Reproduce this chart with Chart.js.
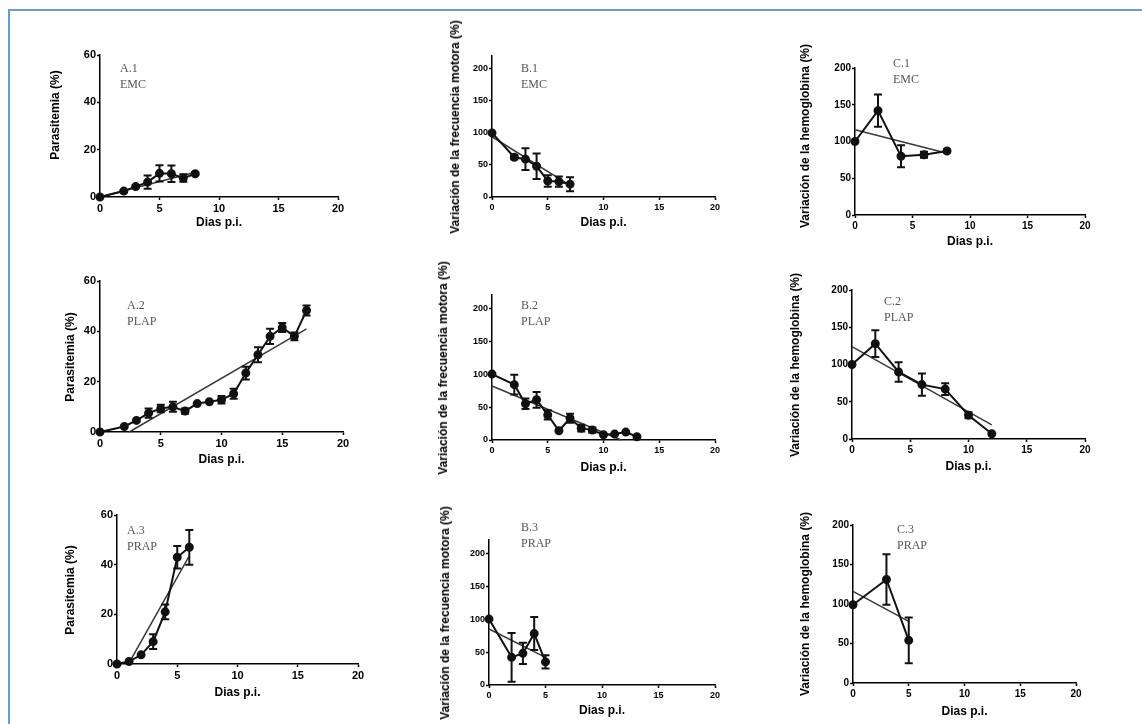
<!DOCTYPE html>
<html><head><meta charset="utf-8">
<script src="https://cdn.jsdelivr.net/npm/chart.js@4.4.0/dist/chart.umd.min.js"></script>
<style>
html,body{margin:0;padding:0;background:#fff;}
#page{position:relative;width:1142px;height:724px;overflow:hidden;background:#fff;}
#frame{position:absolute;left:8px;top:9px;width:1140px;height:720px;border-left:2px solid #6f9ad3;border-top:2px solid #6f9ad3;}
canvas{position:absolute;}
.lab{position:absolute;font-family:"Liberation Serif","Times New Roman",serif;font-size:12px;color:#555;line-height:16px;white-space:nowrap;}
.ytitle{position:absolute;font-family:"Liberation Sans",Arial,sans-serif;font-weight:bold;font-size:12px;color:#000;white-space:nowrap;transform:translate(-50%,-50%) rotate(-90deg);line-height:14px;}
</style></head><body><div id="page"><div id="frame"></div></div>
<script>
// ---------- DATA ----------
const xTicksLabel = 'Dias p.i.';
// A.1 EMC parasitemia
const days_A1 = [0,2,3,4,5,6,7,8];
const par_A1  = [0,2.5,4.4,6.3,10,9.8,8,9.8];
const sd_A1   = [0,0.5,0.5,2.8,3.4,3.5,1.6,0.5];
const fitX_A1 = [0,8];
const fitY_A1 = [0,10.5];
// B.1 EMC motor frequency
const days_B1 = [0,2,3,4,5,6,7];
const fm_B1   = [100,62,59,48,25,24,20];
const sd_B1   = [0,3,17,20,9,8,11];
const fitX_B1 = [0,7];
const fitY_B1 = [94,18];
// C.1 EMC hemoglobin
const days_C1 = [0,2,4,6,8];
const hb_C1   = [100,142,80,82,87];
const sd_C1   = [0,22,15,4,2];
const fitX_C1 = [0,8];
const fitY_C1 = [116,84];
// A.2 PLAP parasitemia
const days_A2 = [0,2,3,4,5,6,7,8,9,10,11,12,13,14,15,16,17];
const par_A2  = [0,2.2,4.6,7.5,9.3,10,8.3,11.3,12,12.8,15.2,23.4,30.7,38,41.5,38,48.3];
const sd_A2   = [0,0,0,1.8,1.5,2,1,0,0,1.5,2,2.5,3,3,1.8,1.5,2];
const fitX_A2 = [2.4,17];
const fitY_A2 = [0,41];
// B.2 PLAP motor frequency
const days_B2 = [0,2,3,4,5,6,7,8,9,10,11,12,13];
const fm_B2   = [100,84,55,61,38,14,33,18,15,8,9,12,5];
const sd_B2   = [0,15,8,12,7,0,7,5,4,0,0,0,0];
const fitX_B2 = [0,11.6];
const fitY_B2 = [82,0];
// C.2 PLAP hemoglobin
const days_C2 = [0,2,4,6,8,10,12];
const hb_C2   = [100,128,90,73,67,32,7];
const sd_C2   = [0,18,13,15,8,4,0];
const fitX_C2 = [0,12];
const fitY_C2 = [124,19];
// A.3 PRAP parasitemia
const days_A3 = [0,1,2,3,4,5,6];
const par_A3  = [0,1,3.7,9,21,43,47];
const sd_A3   = [0,0,0,3,3,4.5,7];
const fitX_A3 = [1,6];
const fitY_A3 = [0.5,43.5];
// B.3 PRAP motor frequency
const days_B3 = [0,2,3,4,5];
const fm_B3   = [100,42,48,78,35];
const sd_B3   = [0,37,16,25,10];
const fitX_B3 = [0,5];
const fitY_B3 = [85,42];
// C.3 PRAP hemoglobin
const days_C3 = [0,3,5];
const hb_C3   = [99,131,54];
const sd_C3   = [0,32,29];
const fitX_C3 = [0,5];
const fitY_C3 = [116,78];

const yTitleA = 'Parasitemia (%)';
const yTitleB = 'Variación de la frecuencia motora (%)';
const yTitleC = 'Variación de la hemoglobina (%)';

// ---------- LAYOUT ----------
const panels = [
 {xs:days_A1, ys:par_A1, sd:sd_A1, fx:fitX_A1, fy:fitY_A1, yt:yTitleA, lab:['A.1','EMC'], L:100,R:338,T:55,B:197,yMax:60,step:20,yDist:45,xDist:26,tick:11,labX:120,labY:68,ytCy:115},
 {xs:days_B1, ys:fm_B1, sd:sd_B1, fx:fitX_B1, fy:fitY_B1, yt:yTitleB, lab:['B.1','EMC'], L:492,R:715,T:56,B:197,yMax:220,step:50,yDist:37,xDist:26,tick:9,labX:521,labY:68},
 {xs:days_C1, ys:hb_C1, sd:sd_C1, fx:fitX_C1, fy:fitY_C1, yt:yTitleC, lab:['C.1','EMC'], L:855,R:1085,T:68,B:215,yMax:200,step:50,yDist:50,xDist:27,tick:10,labX:893,labY:63,ytCy:136},
 {xs:days_A2, ys:par_A2, sd:sd_A2, fx:fitX_A2, fy:fitY_A2, yt:yTitleA, lab:['A.2','PLAP'], L:100,R:343,T:281,B:432,yMax:60,step:20,yDist:30,xDist:28,tick:11,labX:127,labY:305},
 {xs:days_B2, ys:fm_B2, sd:sd_B2, fx:fitX_B2, fy:fitY_B2, yt:yTitleB, lab:['B.2','PLAP'], L:492,R:715,T:295,B:440,yMax:220,step:50,yDist:49,xDist:28,tick:9,labX:521,labY:305},
 {xs:days_C2, ys:hb_C2, sd:sd_C2, fx:fitX_C2, fy:fitY_C2, yt:yTitleC, lab:['C.2','PLAP'], L:852,R:1085,T:290,B:439,yMax:200,step:50,yDist:57,xDist:28,tick:10,labX:884,labY:301},
 {xs:days_A3, ys:par_A3, sd:sd_A3, fx:fitX_A3, fy:fitY_A3, yt:yTitleA, lab:['A.3','PRAP'], L:117,R:358,T:515,B:664,yMax:60,step:20,yDist:47,xDist:29,tick:11,labX:127,labY:530},
 {xs:days_B3, ys:fm_B3, sd:sd_B3, fx:fitX_B3, fy:fitY_B3, yt:yTitleB, lab:['B.3','PRAP'], L:489,R:715,T:540,B:685,yMax:220,step:50,yDist:44,xDist:26,tick:9,labX:521,labY:527},
 {xs:days_C3, ys:hb_C3, sd:sd_C3, fx:fitX_C3, fy:fitY_C3, yt:yTitleC, lab:['C.3','PRAP'], L:853,R:1076,T:525,B:683,yMax:200,step:50,yDist:48,xDist:29,tick:10,labX:897,labY:529}
];

Chart.defaults.font.family = '"Liberation Sans", Arial, sans-serif';

const errorBars = {
  id:'errorBars',
  afterDatasetsDraw(chart){
    const ctx = chart.ctx, xs = chart.scales.x, ys = chart.scales.y;
    chart.data.datasets.forEach(ds=>{
      if(!ds.errors) return;
      ctx.save();
      ctx.strokeStyle = '#111'; ctx.lineWidth = 2;
      ds.data.forEach((pt,i)=>{
        const e = ds.errors[i]; if(!e) return;
        const px = xs.getPixelForValue(pt.x);
        const t = ys.getPixelForValue(pt.y + e);
        const b = ys.getPixelForValue(Math.max(0, pt.y - e));
        ctx.beginPath();
        ctx.moveTo(px,t); ctx.lineTo(px,b);
        ctx.moveTo(px-4,t); ctx.lineTo(px+4,t);
        ctx.moveTo(px-4,b); ctx.lineTo(px+4,b);
        ctx.stroke();
      });
      ctx.restore();
    });
  }
};

const page = document.getElementById('page');

panels.forEach(p=>{
  const padTop = 12, padRight = 12;
  const yW = Math.round(p.yDist + 7), xH = Math.round(p.xDist + 7);
  const w = yW + (p.R - p.L) + padRight;
  const h = padTop + (p.B - p.T) + xH;
  const c = document.createElement('canvas');
  c.width = w; c.height = h;
  c.style.width = w + 'px'; c.style.height = h + 'px';
  c.style.left = (p.L - yW) + 'px'; c.style.top = (p.T - padTop) + 'px';
  page.appendChild(c);

  const tickFont = {size:p.tick, weight:'bold'};
  const gridOpts = {display:true, drawOnChartArea:false, drawTicks:true, tickLength:3, tickWidth:1.5, tickColor:'#000'};
  const borderOpts = {display:true, color:'#000', width:1.5};

  new Chart(c, {
    type:'scatter',
    data:{datasets:[
      {data:p.xs.map((x,i)=>({x:x, y:p.ys[i]})), showLine:true, borderColor:'#111', borderWidth:2,
       pointRadius:3.5, pointBackgroundColor:'#111', pointBorderColor:'#111', errors:p.sd, clip:false},
      {data:p.fx.map((x,i)=>({x:x, y:p.fy[i]})), showLine:true, borderColor:'#3a3a3a', borderWidth:1.5,
       pointRadius:0, clip:false}
    ]},
    options:{
      responsive:false, animation:false, devicePixelRatio:1,
      layout:{padding:{top:padTop, right:padRight, left:0, bottom:0}},
      plugins:{legend:{display:false}, tooltip:{enabled:false}},
      scales:{
        x:{type:'linear', min:0, max:20,
           ticks:{stepSize:5, includeBounds:false, font:tickFont, color:'#000', padding:2, maxRotation:0},
           grid:gridOpts, border:borderOpts,
           title:{display:true, text:xTicksLabel, font:{size:12, weight:'bold'}, color:'#000', padding:0},
           afterFit(s){ s.height = xH; }},
        y:{type:'linear', min:0, max:p.yMax,
           ticks:{stepSize:p.step, includeBounds:false, font:tickFont, color:'#000', padding:1},
           grid:gridOpts, border:borderOpts,
           title:{display:false},
           afterFit(s){ s.width = yW; }}
      }
    },
    plugins:[errorBars]
  });

  const yt = document.createElement('div');
  yt.className = 'ytitle';
  yt.textContent = p.yt;
  yt.style.left = (p.L - p.yDist) + 'px';
  yt.style.top = (p.ytCy !== undefined ? p.ytCy : (p.T + p.B)/2) + 'px';
  page.appendChild(yt);

  const lb = document.createElement('div');
  lb.className = 'lab';
  lb.innerHTML = p.lab[0] + '<br>' + p.lab[1];
  lb.style.left = p.labX + 'px';
  lb.style.top = (p.labY - 8) + 'px';
  page.appendChild(lb);
});
</script>
</body></html>
